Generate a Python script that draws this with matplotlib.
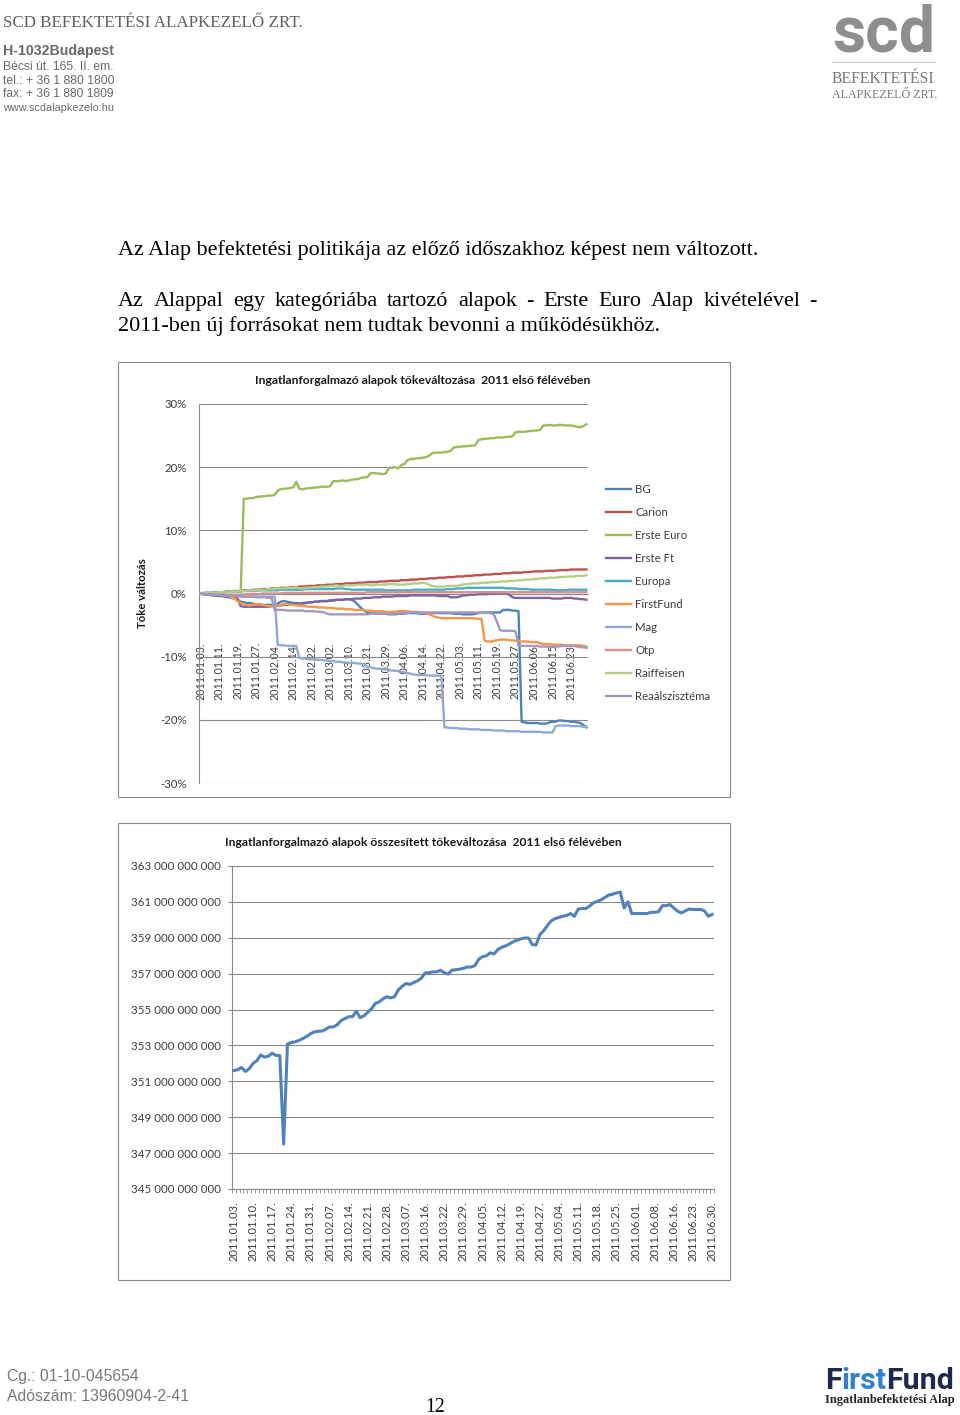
import numpy as np
import pandas as pd
import matplotlib
matplotlib.use("Agg")
import matplotlib.pyplot as plt
from matplotlib.lines import Line2D
from matplotlib.patches import Rectangle
from matplotlib.ticker import FixedLocator, FuncFormatter

W, H = 960, 1415
SANS = ["Lato", "DejaVu Sans"]
SERIF = ["Liberation Serif", "DejaVu Serif"]
ARIAL = ["Liberation Sans", "DejaVu Sans"]
LOGO = ["Roboto", "DejaVu Sans"]
GRID = "#8a8a8a"
TXT = "#3c3c3c"

# Budapest trading days, first half of 2011
holidays = pd.to_datetime(["2011-03-14", "2011-03-15", "2011-04-25", "2011-06-13"])
days = pd.bdate_range("2011-01-03", "2011-06-30").drop(holidays)
days = days.append(pd.DatetimeIndex(["2011-03-19"])).sort_values()
day_labels = [d.strftime("%Y.%m.%d.") for d in days]

# --- chart 1: capital change of each fund, % ---
bg = [0.0, -0.1, -0.2, -0.2, -0.3, -0.3, -0.4, -0.4, -0.5, -0.6, -0.7, -0.8,
      -1.0, -1.3, -1.4, -1.5, -1.5, -1.6, -1.7, -1.7, -1.8, -1.8, -1.8, -1.8,
      -1.8, -1.6, -1.3, -1.2, -1.3, -1.4, -1.5, -1.5, -1.6, -1.6, -1.5, -1.4,
      -1.4, -1.3, -1.3, -1.2, -1.2, -1.2, -1.1, -1.1, -1.0, -1.0, -1.0, -0.9,
      -0.9, -1.0, -1.3, -1.8, -2.3, -2.7, -3.0, -3.1, -3.1, -3.2, -3.2, -3.2,
      -3.2, -3.3, -3.3, -3.3, -3.2, -3.2, -3.2, -3.1, -3.1, -3.1, -3.1, -3.2,
      -3.2, -3.2, -3.2, -3.1, -3.1, -3.1, -3.1, -3.1, -3.1, -3.1, -3.2, -3.2,
      -3.2, -3.3, -3.3, -3.3, -3.3, -3.2, -3.1, -3.0, -3.0, -3.0, -3.0, -3.0,
      -3.0, -3.0, -2.6, -2.6, -2.6, -2.7, -2.7, -2.8, -20.3, -20.4, -20.5, -20.5,
      -20.5, -20.5, -20.6, -20.6, -20.6, -20.4, -20.3, -20.3, -20.1, -20.1, -20.2, -20.2,
      -20.3, -20.3, -20.4, -20.5, -20.8, -21.2]
carion = [0.0, 0.0, 0.1, 0.1, 0.1, 0.2, 0.2, 0.2, 0.3, 0.3, 0.3, 0.4,
          0.4, 0.4, 0.5, 0.5, 0.5, 0.6, 0.6, 0.6, 0.7, 0.7, 0.7, 0.8,
          0.8, 0.8, 0.9, 0.9, 0.9, 1.0, 1.0, 1.0, 1.1, 1.1, 1.1, 1.2,
          1.2, 1.2, 1.3, 1.3, 1.3, 1.4, 1.4, 1.4, 1.5, 1.5, 1.5, 1.6,
          1.6, 1.6, 1.6, 1.7, 1.7, 1.7, 1.8, 1.8, 1.8, 1.8, 1.9, 1.9,
          1.9, 2.0, 2.0, 2.0, 2.0, 2.1, 2.1, 2.1, 2.2, 2.2, 2.2, 2.3,
          2.3, 2.3, 2.4, 2.4, 2.4, 2.5, 2.5, 2.5, 2.6, 2.6, 2.6, 2.7,
          2.7, 2.7, 2.8, 2.8, 2.8, 2.9, 2.9, 2.9, 3.0, 3.0, 3.0, 3.1,
          3.1, 3.1, 3.2, 3.2, 3.2, 3.3, 3.3, 3.3, 3.3, 3.4, 3.4, 3.4,
          3.5, 3.5, 3.5, 3.5, 3.6, 3.6, 3.6, 3.6, 3.7, 3.7, 3.7, 3.7,
          3.8, 3.8, 3.8, 3.8, 3.8, 3.8]
erste_euro = [0.0, 0.1, 0.1, 0.0, 0.1, 0.2, 0.2, 0.1, 0.2, 0.3, 0.2, 0.3,
              0.3, 0.3, 15.0, 15.0, 15.1, 15.1, 15.3, 15.3, 15.4, 15.4, 15.5, 15.5,
              15.6, 16.3, 16.5, 16.6, 16.6, 16.7, 16.8, 17.7, 16.6, 16.5, 16.6, 16.7,
              16.7, 16.8, 16.8, 16.9, 16.9, 16.9, 17.0, 17.8, 17.8, 17.8, 17.9, 17.8,
              17.9, 18.0, 18.1, 18.1, 18.3, 18.4, 18.4, 19.0, 19.1, 19.0, 19.0, 18.9,
              19.0, 19.9, 19.9, 20.0, 19.8, 20.3, 20.5, 21.1, 21.3, 21.3, 21.4, 21.4,
              21.5, 21.6, 21.8, 22.2, 22.3, 22.3, 22.3, 22.4, 22.4, 22.6, 23.1, 23.2,
              23.2, 23.3, 23.3, 23.4, 23.4, 23.5, 24.3, 24.4, 24.5, 24.5, 24.6, 24.6,
              24.7, 24.7, 24.7, 24.8, 24.8, 24.9, 25.5, 25.6, 25.6, 25.6, 25.7, 25.7,
              25.8, 25.8, 25.9, 26.6, 26.6, 26.7, 26.6, 26.6, 26.7, 26.7, 26.6, 26.6,
              26.6, 26.5, 26.4, 26.3, 26.5, 26.8]
erste_ft = [0.0, -0.1, -0.2, -0.2, -0.3, -0.3, -0.3, -0.4, -0.4, -0.5, -0.5, -0.6,
            -0.8, -2.0, -2.1, -2.1, -2.1, -2.1, -2.1, -2.1, -2.1, -2.1, -2.1, -2.0,
            -2.0, -1.9, -1.9, -1.8, -1.8, -1.7, -1.7, -1.6, -1.6, -1.5, -1.5, -1.4,
            -1.4, -1.3, -1.3, -1.2, -1.2, -1.2, -1.1, -1.1, -1.0, -1.0, -1.0, -0.9,
            -0.9, -0.9, -0.8, -0.8, -0.8, -0.7, -0.7, -0.7, -0.6, -0.6, -0.6, -0.5,
            -0.5, -0.5, -0.5, -0.4, -0.4, -0.4, -0.4, -0.4, -0.3, -0.3, -0.3, -0.3,
            -0.3, -0.3, -0.3, -0.3, -0.3, -0.4, -0.4, -0.4, -0.4, -0.6, -0.6, -0.6,
            -0.5, -0.3, -0.3, -0.2, -0.2, -0.2, -0.1, -0.1, -0.1, -0.1, 0.0, 0.0,
            0.0, 0.1, 0.1, 0.1, -0.2, -0.6, -0.7, -0.7, -0.7, -0.7, -0.7, -0.7,
            -0.7, -0.7, -0.7, -0.7, -0.7, -0.7, -0.8, -0.8, -0.8, -0.8, -0.7, -0.7,
            -0.7, -0.8, -0.8, -0.9, -0.9, -1.0]
europa = [0.0, 0.0, 0.1, 0.1, 0.1, 0.2, 0.2, 0.2, 0.2, 0.3, 0.3, 0.3,
          0.3, 0.3, 0.4, 0.4, 0.4, 0.4, 0.4, 0.5, 0.5, 0.5, 0.5, 0.5,
          0.5, 0.5, 0.6, 0.6, 0.6, 0.6, 0.6, 0.6, 0.6, 0.6, 0.7, 0.7,
          0.7, 0.7, 0.7, 0.7, 0.7, 0.7, 0.7, 0.7, 0.8, 0.8, 0.8, 0.7,
          0.7, 0.6, 0.6, 0.6, 0.6, 0.6, 0.6, 0.6, 0.6, 0.6, 0.6, 0.6,
          0.5, 0.5, 0.5, 0.5, 0.5, 0.5, 0.5, 0.5, 0.5, 0.6, 0.6, 0.6,
          0.6, 0.6, 0.6, 0.6, 0.6, 0.6, 0.6, 0.6, 0.7, 0.7, 0.7, 0.8,
          0.8, 0.8, 0.9, 0.9, 0.9, 0.9, 0.9, 0.9, 0.9, 0.9, 0.9, 0.9,
          0.9, 0.9, 0.9, 0.8, 0.8, 0.8, 0.8, 0.7, 0.7, 0.7, 0.7, 0.6,
          0.6, 0.6, 0.6, 0.6, 0.6, 0.6, 0.6, 0.5, 0.5, 0.5, 0.5, 0.6,
          0.6, 0.6, 0.6, 0.6, 0.6, 0.6]
firstfund = [0.0, 0.0, -0.1, -0.1, -0.2, -0.2, -0.2, -0.3, -0.3, -0.4, -0.6, -0.8,
             -1.2, -1.5, -1.7, -1.8, -1.9, -1.8, -1.7, -1.7, -1.8, -1.9, -2.0, -2.0,
             -2.0, -1.9, -1.8, -1.7, -1.7, -1.8, -1.8, -1.9, -1.9, -2.0, -2.0, -2.1,
             -2.1, -2.1, -2.2, -2.2, -2.2, -2.3, -2.3, -2.3, -2.4, -2.4, -2.4, -2.5,
             -2.5, -2.5, -2.6, -2.6, -2.6, -2.7, -2.7, -2.7, -2.8, -2.8, -2.8, -2.8,
             -2.9, -2.9, -2.9, -2.9, -2.8, -2.8, -2.8, -2.8, -2.9, -2.9, -2.9, -3.0,
             -3.0, -3.1, -3.3, -3.5, -3.7, -3.8, -3.9, -3.9, -3.9, -3.9, -3.9, -3.9,
             -3.9, -3.9, -3.9, -3.9, -3.9, -4.0, -4.0, -4.0, -7.5, -7.6, -7.6, -7.5,
             -7.4, -7.3, -7.3, -7.3, -7.4, -7.4, -7.5, -7.5, -7.6, -7.6, -7.6, -7.7,
             -7.7, -7.7, -7.9, -8.0, -8.0, -8.0, -8.1, -8.1, -8.1, -8.1, -8.2, -8.2,
             -8.2, -8.2, -8.2, -8.2, -8.3, -8.4]
mag = [0.0, -0.1, -0.1, -0.1, -0.2, -0.2, -0.2, -0.2, -0.3, -0.3, -0.3, -0.3,
       -0.4, -0.5, -0.5, -0.5, -0.5, -0.5, -0.5, -0.5, -0.5, -0.5, -0.5, -0.5,
       -0.5, -8.1, -8.2, -8.2, -8.3, -8.3, -8.3, -8.3, -10.2, -10.3, -10.3, -10.4,
       -10.4, -10.4, -10.5, -10.5, -10.6, -10.6, -10.7, -10.7, -10.8, -10.8, -10.9, -10.9,
       -11.0, -11.0, -11.0, -11.1, -11.1, -11.2, -11.6, -11.7, -11.8, -11.9, -11.9, -12.0,
       -12.0, -12.1, -12.2, -12.2, -12.3, -12.4, -12.5, -12.6, -12.7, -12.8, -12.9, -12.9,
       -12.9, -12.9, -13.0, -13.0, -13.0, -13.0, -13.0, -21.2, -21.2, -21.3, -21.3, -21.3,
       -21.4, -21.4, -21.4, -21.5, -21.5, -21.5, -21.5, -21.6, -21.6, -21.6, -21.6, -21.7,
       -21.7, -21.7, -21.7, -21.8, -21.8, -21.8, -21.8, -21.8, -21.9, -21.9, -21.9, -21.9,
       -21.9, -21.9, -21.9, -22.0, -22.0, -22.0, -22.0, -21.0, -20.9, -20.9, -20.9, -20.9,
       -21.0, -21.0, -21.0, -21.0, -21.1, -21.1]
otp = [0.0, 0.0, 0.0, -0.1, -0.1, -0.1, -0.1, -0.1, -0.2, -0.2, -0.2, -0.2,
       -0.2, -0.2, -0.2, -0.1, -0.1, -0.1, -0.1, -0.1, 0.0, 0.0, 0.0, 0.0,
       0.0, 0.0, 0.0, 0.1, 0.1, 0.1, 0.1, 0.1, 0.1, 0.1, 0.1, 0.1,
       0.1, 0.1, 0.1, 0.1, 0.1, 0.1, 0.1, 0.1, 0.1, 0.1, 0.1, 0.1,
       0.1, 0.1, 0.1, 0.1, 0.1, 0.1, 0.2, 0.2, 0.2, 0.2, 0.2, 0.2,
       0.2, 0.2, 0.2, 0.2, 0.2, 0.2, 0.2, 0.2, 0.2, 0.2, 0.2, 0.2,
       0.2, 0.2, 0.2, 0.2, 0.2, 0.2, 0.2, 0.2, 0.2, 0.2, 0.2, 0.2,
       0.2, 0.2, 0.2, 0.2, 0.2, 0.2, 0.2, 0.2, 0.2, 0.2, 0.2, 0.2,
       0.2, 0.2, 0.2, 0.2, 0.2, 0.2, 0.2, 0.2, 0.2, 0.2, 0.2, 0.2,
       0.2, 0.2, 0.2, 0.2, 0.2, 0.2, 0.2, 0.2, 0.2, 0.2, 0.2, 0.2,
       0.2, 0.2, 0.2, 0.2, 0.2, 0.2]
raiffeisen = [0.0, 0.1, 0.1, 0.0, 0.1, 0.1, 0.2, 0.2, 0.3, 0.2, 0.3, 0.3,
              0.3, 0.4, 0.4, 0.4, 0.5, 0.5, 0.5, 0.6, 0.6, 0.6, 0.7, 0.7,
              0.7, 0.8, 0.8, 0.8, 0.9, 0.9, 0.9, 1.0, 0.8, 0.8, 0.9, 0.9,
              1.0, 1.0, 1.0, 1.1, 1.1, 1.1, 1.2, 1.2, 1.3, 1.2, 1.2, 1.3,
              1.3, 1.3, 1.3, 1.4, 1.4, 1.4, 1.4, 1.3, 1.3, 1.4, 1.4, 1.4,
              1.4, 1.5, 1.5, 1.5, 1.4, 1.4, 1.4, 1.5, 1.5, 1.6, 1.6, 1.6,
              1.7, 1.6, 1.4, 1.2, 1.1, 1.1, 1.1, 1.1, 1.2, 1.2, 1.2, 1.2,
              1.3, 1.4, 1.5, 1.5, 1.6, 1.6, 1.6, 1.7, 1.7, 1.7, 1.8, 1.8,
              1.8, 1.9, 1.9, 1.9, 2.0, 2.0, 2.0, 2.1, 2.1, 2.2, 2.2, 2.2,
              2.3, 2.3, 2.4, 2.4, 2.4, 2.5, 2.5, 2.5, 2.6, 2.6, 2.6, 2.7,
              2.7, 2.7, 2.8, 2.8, 2.8, 2.9]
realszisztema = [0.0, 0.0, -0.1, -0.1, -0.1, -0.2, -0.2, -0.2, -0.3, -0.3, -0.3, -0.4,
                 -0.4, -0.4, -0.5, -0.5, -0.5, -0.5, -0.6, -0.6, -0.6, -0.6, -0.7, -0.7,
                 -2.6, -2.6, -2.6, -2.6, -2.7, -2.7, -2.7, -2.7, -2.7, -2.7, -2.8, -2.8,
                 -2.8, -2.8, -2.9, -2.9, -3.0, -3.2, -3.3, -3.3, -3.3, -3.3, -3.3, -3.3,
                 -3.3, -3.3, -3.3, -3.3, -3.3, -3.3, -3.3, -3.2, -3.2, -3.2, -3.2, -3.2,
                 -3.2, -3.2, -3.2, -3.2, -3.1, -3.1, -3.1, -3.1, -3.0, -3.0, -3.0, -3.0,
                 -3.0, -3.0, -3.0, -3.0, -3.0, -3.0, -3.0, -3.0, -3.0, -3.0, -3.0, -3.0,
                 -3.0, -3.0, -3.0, -3.0, -3.0, -3.0, -3.0, -3.0, -3.1, -3.1, -3.1, -3.3,
                 -4.5, -5.8, -5.9, -5.9, -5.9, -5.9, -6.0, -8.2, -8.3, -8.3, -8.3, -8.3,
                 -8.3, -8.3, -8.4, -8.4, -8.4, -8.4, -8.4, -8.4, -8.4, -8.3, -8.3, -8.3,
                 -8.3, -8.3, -8.4, -8.5, -8.5, -8.6]

fund_names = ["BG", "Carion", "Erste Euro", "Erste Ft", "Europa", "FirstFund",
              "Mag", "Otp", "Raiffeisen", "Reaálszisztéma"]
fund_series = [bg, carion, erste_euro, erste_ft, europa, firstfund,
               mag, otp, raiffeisen, realszisztema]
fund_colors = ["#4F81BD", "#C0504D", "#9BBB59", "#7F62A1", "#4BACC6", "#F79646",
               "#8EA9D8", "#DA8F8E", "#B4CE88", "#A497C2"]

# --- chart 2: aggregated capital, billion HUF ---
total_bn = [351.6, 351.65, 351.77, 351.55, 351.7, 352.0, 352.15, 352.47, 352.35, 352.4, 352.57, 352.44,
            352.44, 347.5, 353.07, 353.17, 353.2, 353.28, 353.38, 353.5, 353.65, 353.75, 353.79, 353.8,
            353.9, 354.03, 354.03, 354.15, 354.38, 354.5, 354.6, 354.6, 354.9, 354.55, 354.65, 354.85,
            355.05, 355.35, 355.43, 355.6, 355.72, 355.65, 355.72, 356.1, 356.3, 356.45, 356.4, 356.5,
            356.6, 356.75, 357.04, 357.05, 357.1, 357.1, 357.19, 357.05, 356.98, 357.2, 357.22, 357.25,
            357.3, 357.37, 357.37, 357.45, 357.8, 357.95, 358.0, 358.16, 358.1, 358.35, 358.47, 358.55,
            358.65, 358.78, 358.86, 358.94, 358.99, 358.99, 358.62, 358.6, 359.18, 359.4, 359.7, 359.95,
            360.07, 360.14, 360.2, 360.25, 360.35, 360.2, 360.6, 360.63, 360.63, 360.77, 360.95, 361.03,
            361.12, 361.25, 361.38, 361.43, 361.5, 361.55, 360.66, 361.0, 360.35, 360.35, 360.35, 360.35,
            360.35, 360.42, 360.42, 360.45, 360.79, 360.79, 360.85, 360.66, 360.48, 360.38, 360.5, 360.6,
            360.58, 360.57, 360.58, 360.5, 360.2, 360.3]

title1 = "Ingatlanforgalmazó alapok tőkeváltozása  2011 első félévében"
title2 = "Ingatlanforgalmazó alapok összesített tőkeváltozása  2011 első félévében"
ylabel1 = "Tőke változás"

para1 = "Az Alap befektetési politikája az előző időszakhoz képest nem változott."
para2a = "Az Alappal egy kategóriába tartozó alapok - Erste Euro Alap kivételével -"
para2b = "2011-ben új forrásokat nem tudtak bevonni a működésükhöz."
address = ["H-1032Budapest", "Bécsi út. 165. II. em.", "tel.: + 36 1 880 1800",
           "fax: + 36 1 880 1809", "www.scdalapkezelo.hu"]


def rect(x0, y0, x1, y1):
    return [x0 / W, 1 - y1 / H, (x1 - x0) / W, (y1 - y0) / H]


fig = plt.figure(figsize=(W / 100, H / 100), dpi=100)
fig.patch.set_facecolor("white")
renderer = fig.canvas.get_renderer()


def put(x, y, s, width=None, va="baseline", **kw):
    t = fig.text(x / W, 1 - y / H, s, va=va, **kw)
    if width:
        w = t.get_window_extent(renderer).width
        t.set_fontsize(t.get_fontsize() * width / w)
    return t


def justify(x0, x1, y, s, **kw):
    words = s.split(" ")
    ts = [fig.text(0, 1 - y / H, w, va="baseline", **kw) for w in words]
    ws = [t.get_window_extent(renderer).width for t in ts]
    gap = (x1 - x0 - sum(ws)) / (len(ws) - 1)
    pos = x0
    for t, w in zip(ts, ws):
        t.set_x(pos / W)
        pos += w + gap


def frame(x0, y0, x1, y1):
    fig.add_artist(Rectangle((x0 / W, 1 - y1 / H), (x1 - x0) / W, (y1 - y0) / H,
                             transform=fig.transFigure, fill=False,
                             edgecolor=GRID, lw=0.8))


x = np.arange(len(days))

# ---------------- chart 1 ----------------
frame(118, 362, 730, 797)
ax1 = fig.add_axes(rect(199, 404, 588, 783))
for name, vals, col in zip(fund_names, fund_series, fund_colors):
    ax1.plot(x, vals, color=col, lw=1.7, label=name, zorder=3)
ax1.set_xlim(-0.5, len(x) - 0.5)
ax1.set_ylim(-30, 30)
ax1.set_yticks(np.arange(-30, 31, 10))
ax1.yaxis.set_major_formatter(FuncFormatter(lambda v, p: f"{v:.0f}%"))
ax1.yaxis.grid(True, color=GRID, lw=0.8)
ax1.set_axisbelow(True)
for s in ["top", "right"]:
    ax1.spines[s].set_visible(False)
ax1.spines["left"].set_color(GRID)
ax1.spines["bottom"].set_color(GRID)
ax1.spines["bottom"].set_position(("data", 0))
ax1.set_xticks(x[::6])
ax1.set_xticklabels(day_labels[::6], rotation=90, fontsize=7.7, family=SANS, color=TXT)
ax1.tick_params(axis="x", length=0, pad=35)
ax1.tick_params(axis="y", length=0, pad=9, labelsize=8.2, labelcolor=TXT)
for t in ax1.get_yticklabels():
    t.set_family(SANS)
put(423, 380, title1, width=336, va="center", ha="center",
    fontsize=8.5, weight="bold", family=SANS, color="#1a1a1a")
fig.text(143 / W, 1 - 593 / H, ylabel1, rotation=90, ha="center", va="center",
         fontsize=8.2, weight="bold", family=SANS, color="#1a1a1a")
handles = [Line2D([], [], color=c, lw=1.7) for c in fund_colors]
fig.legend(handles, fund_names, loc="upper left", bbox_to_anchor=(606 / W, 1 - 484 / H),
           frameon=False, prop={"family": SANS, "size": 8.2}, labelcolor=TXT,
           labelspacing=1.05, handlelength=2.2, handletextpad=0.35,
           borderpad=0, borderaxespad=0)

# ---------------- chart 2 ----------------
frame(118, 823, 730, 1280)
ax2 = fig.add_axes(rect(232, 866, 714, 1189))
ax2.plot(x, np.array(total_bn) * 1e9, color="#4F81BD", lw=2.2, zorder=3)
ax2.set_xlim(-0.5, len(x) - 0.5)
ax2.set_ylim(345e9, 363e9)
ax2.set_yticks(np.arange(345e9, 363.5e9, 2e9))
ax2.yaxis.set_major_formatter(FuncFormatter(lambda v, p: f"{v:,.0f}".replace(",", " ")))
ax2.yaxis.grid(True, color=GRID, lw=0.8)
ax2.set_axisbelow(True)
for s in ["top", "right"]:
    ax2.spines[s].set_visible(False)
ax2.spines["left"].set_color(GRID)
ax2.spines["bottom"].set_color(GRID)
ax2.set_xticks(x[::5])
ax2.set_xticklabels(day_labels[::5], rotation=90, fontsize=8, family=SANS, color=TXT)
ax2.xaxis.set_minor_locator(FixedLocator(np.arange(-0.5, len(x), 1)))
ax2.tick_params(axis="x", which="major", length=0, pad=9)
ax2.tick_params(axis="x", which="minor", length=3, color=GRID, width=0.6)
ax2.tick_params(axis="y", length=3, color=GRID, pad=5, labelsize=8.3, labelcolor=TXT)
for t in ax2.get_yticklabels():
    t.set_family(SANS)
put(423, 842, title2, width=395, va="center", ha="center",
    fontsize=8.5, weight="bold", family=SANS, color="#1a1a1a")

# ---------------- page text ----------------
put(3, 27, "SCD BEFEKTETÉSI ALAPKEZELŐ ZRT.", width=300, family=SERIF, fontsize=13, color="#5f5f5f")
addr_base = [55, 70, 84, 97, 111]
for i, (line, yb) in enumerate(zip(address, addr_base)):
    put(3, yb, line, width=111, family=ARIAL, fontsize=8,
        weight="bold" if i == 0 else "normal", color="#6a6a6a")

put(832, 52, "scd", width=103, family=LOGO, weight="bold", fontsize=44, color="#8e8e8e")
fig.add_artist(Line2D([832 / W, 935 / W], [1 - 62 / H, 1 - 62 / H], color="#c8c8c8", lw=0.8))
put(832, 83, "BEFEKTETÉSI", width=103, family=SERIF, fontsize=11, color="#777777")
put(832, 98, "ALAPKEZELŐ ZRT.", width=105, family=SERIF, fontsize=9, color="#777777")

t1 = put(118, 255, para1, width=640, family=SERIF, fontsize=14.5, color="black")
body_fs = t1.get_fontsize()
justify(118, 817, 306, para2a, family=SERIF, fontsize=body_fs, color="black")
put(118, 331, para2b, family=SERIF, fontsize=body_fs, color="black")

put(7, 1381, "Cg.: 01-10-045654", width=131, family=ARIAL, fontsize=11, color="#777777")
put(7, 1401, "Adószám: 13960904-2-41", width=181, family=ARIAL, fontsize=11, color="#777777")
put(425, 1412, "12", width=20, family=SERIF, fontsize=14, color="black")

# FirstFund logo text
navy, blue = "#1d2a4d", "#2f80cf"
probe = fig.text(0, 0, "FirstFund", family=LOGO, weight="bold", fontsize=17)
ff_fs = 17 * 130 / probe.get_window_extent(renderer).width
probe.remove()
pos = 825
for part, col in [("F", navy), ("irst", blue), ("Fund", navy)]:
    t = put(pos, 1389, part, family=LOGO, weight="bold", fontsize=ff_fs, color=col)
    pos += t.get_window_extent(renderer).width
put(825, 1403, "Ingatlanbefektetési Alap", width=129, family=SERIF, weight="bold",
    fontsize=8, color="#222222")

fig.savefig("out.png", dpi=100, facecolor="white")
